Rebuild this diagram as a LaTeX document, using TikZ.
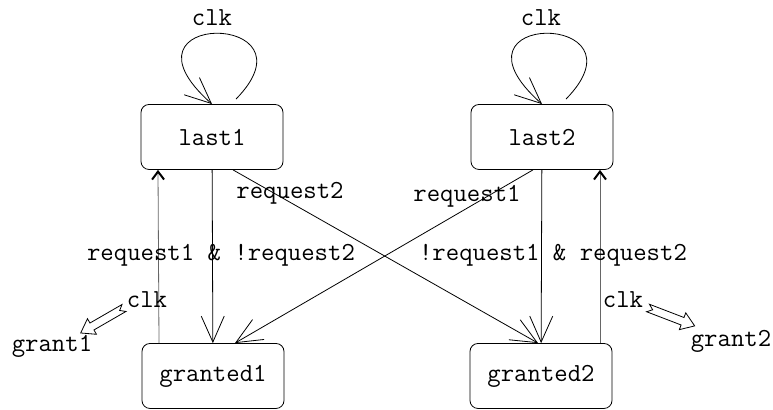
\documentclass[tikz,border=0pt]{standalone}
\usetikzlibrary{arrows.meta}
\tikzset{
  stbox/.style={draw,rounded corners=4pt,minimum width=71pt,minimum height=32.5pt,inner sep=0pt,font=\ttfamily\fontsize{13}{15}\selectfont},
  lbl/.style={inner sep=1pt,font=\ttfamily\fontsize{13}{15}\selectfont},
  trans/.style={-{Straight Barb[length=13pt,width=11.5pt]}},
  back/.style={gray!80!black,-{Straight Barb[length=4pt,width=6pt,line width=1pt,black]}}
}
\begin{document}
\begin{tikzpicture}[x=0.5pt,y=0.5pt]
        \useasboundingbox (0,0) rectangle (773,410);
        % the four states
        \node[stbox] (last1) at (212,273) {last1};
        \node[stbox] (last2) at (542,273) {last2};
        \node[stbox] (granted1) at (213,34) {granted1};
        \node[stbox] (granted2) at (541,34) {granted2};
        % clk self loops
        \foreach \n/\x in {1/212,2/541}{
          \draw[trans] ([xshift=12pt,yshift=2.5pt]last\n.north) .. controls +(86,88) and +(-106,94) .. (last\n.north);
          \node[lbl] (clk\n) at (\x,392) {clk};}
        % transitions
        \draw[trans] (last1) -- (granted1);
        \draw[trans] (last2) -- (granted2);
        \draw[trans] ([xshift=10.5pt]last1.south) -- ([xshift=-1.5pt]granted2.north);
        \draw[trans] ([xshift=-4.5pt]last2.south) -- ([xshift=11pt]granted1.north);
        \draw[back] ([xshift=-27pt]granted1.north) -- ([xshift=-27pt]last1.south);
        \draw[back] ([xshift=29.5pt]granted2.north) -- ([xshift=29pt]last2.south);
        \node[lbl] (r2) at (290,217) {request2};
        \node[lbl] (r1) at (467,214) {request1};
        \node[lbl] (r1nr2) at (221,155) {request1 \& !request2};
        \node[lbl] (nr1r2) at (553,155) {!request1 \& request2};
        % grant outputs
        \node[lbl] (clkg1) at (147,110) {clk};
        \node[lbl] (clkg2) at (623,110) {clk};
        \node[lbl] (grant1) at (52,64) {grant1};
        \node[lbl] (grant2) at (731,69) {grant2};
        \foreach \x/\y/\a in {124/102/210,648/102/-21}{
          \draw[shift={(\x,\y)},rotate=\a] (0,4) -- (37,4) -- (37,9) -- (50,0) -- (37,-9) -- (37,-4) -- (0,-4) -- (5,0) -- cycle;}
    \end{tikzpicture}
\end{document}
